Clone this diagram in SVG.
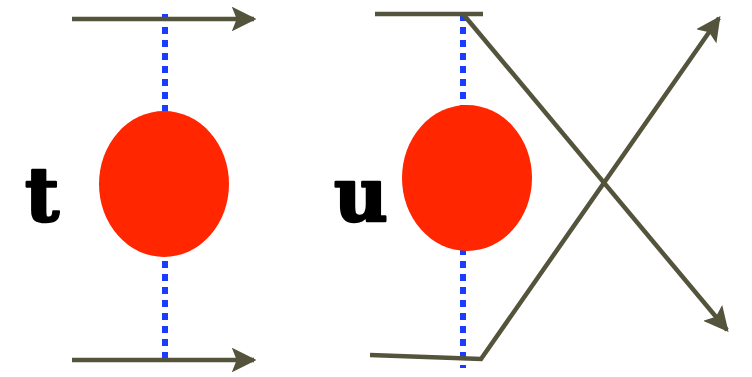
<svg xmlns="http://www.w3.org/2000/svg" width="752" height="377" viewBox="0 0 752 377">
<style>
.ln{stroke:#54533b;stroke-width:4.5;fill:none}
.dot{stroke:#1a3cff;stroke-width:6;stroke-dasharray:7 6;fill:none}
.blob{fill:#ff2600}
.lbl{font-family:"DejaVu Serif",serif;font-weight:bold;font-size:74px;fill:#000;stroke:#000;stroke-width:2.5;stroke-linejoin:round}
</style>
<defs>
<marker id="ah" viewBox="0 0 10 10" refX="9" refY="5" markerWidth="5.5" markerHeight="5.5" orient="auto" markerUnits="strokeWidth">
<path d="M0,0 L10,5 L0,10 L2,5 Z" fill="#54533b"/>
</marker>
</defs>
<g id="t-diagram">
<line class="dot" x1="165" y1="14" x2="165" y2="358"/>
<ellipse class="blob" cx="164" cy="184" rx="65" ry="73"/>
<text class="lbl" x="42" y="221" text-anchor="middle">t</text>
</g>
<g id="u-diagram">
<line class="dot" x1="463" y1="14" x2="463" y2="368"/>
<ellipse class="blob" cx="467" cy="178" rx="65" ry="73"/>
<text class="lbl" x="361" y="221" text-anchor="middle">u</text>
</g>
<g id="connectors">
<line class="ln" x1="72" y1="19" x2="254" y2="19" marker-end="url(#ah)"/>
<line class="ln" x1="72" y1="360" x2="254" y2="360" marker-end="url(#ah)"/>
<line class="ln" x1="375" y1="14" x2="483" y2="14"/>
<polyline class="ln" points="463,14 727,330" marker-end="url(#ah)"/>
<polyline class="ln" points="370,355 481,359 719,18" marker-end="url(#ah)"/>
</g>
</svg>
